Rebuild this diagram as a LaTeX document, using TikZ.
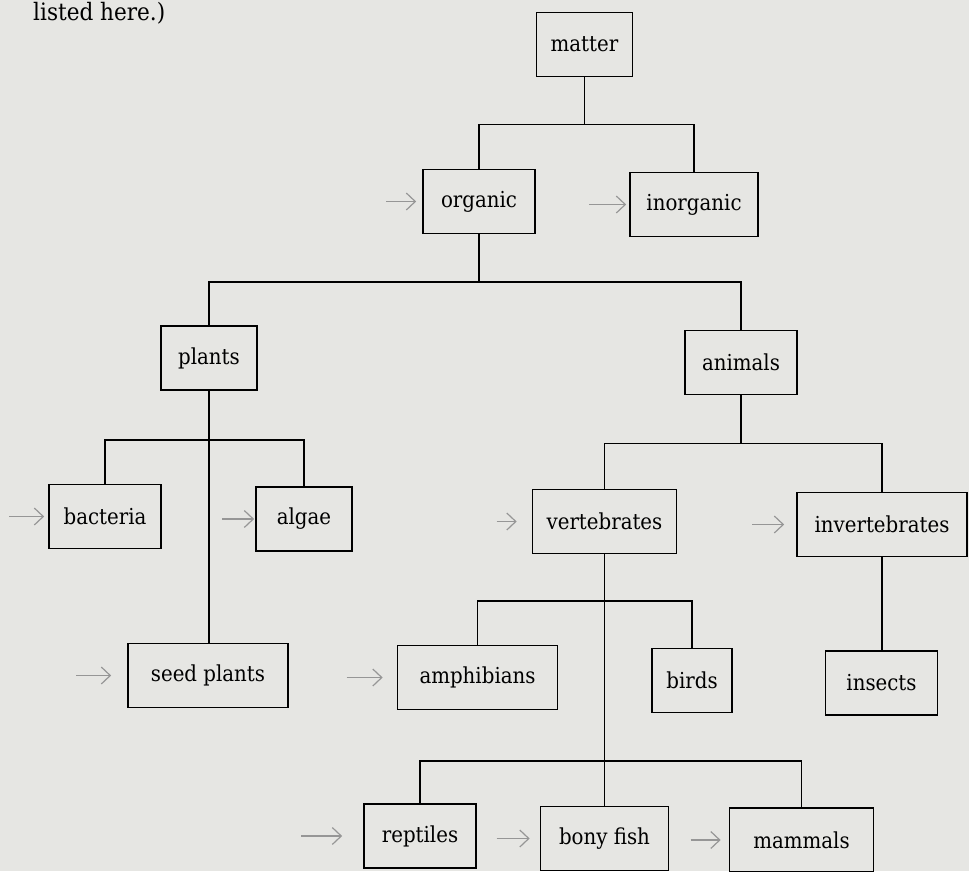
\documentclass[tikz,border=0pt]{standalone}
\usepackage{fontspec}
\setmainfont{DejaVu Serif Condensed}
\usetikzlibrary{arrows.meta}
\definecolor{page}{RGB}{230,230,227}
\definecolor{pencil}{RGB}{150,150,150}
\tikzset{
  box/.style    ={draw,line width=1.7pt,minimum height=64pt,minimum width=#1,inner sep=0pt,
                  font=\fontsize{22}{26}\selectfont},
  box/.default  =112pt,
  tree/.style   ={line width=1.5pt},
  pencilarr/.style={draw=pencil,line width=1.2pt,-{Straight Barb[length=9pt,width=17pt]}},
}

\begin{document}
\begin{tikzpicture}[x=1pt,y=-1pt]
  \fill[page] (0,0) rectangle (969,871);
  \useasboundingbox (0,0) rectangle (969,871);
  \node[anchor=base west,inner sep=0pt,font=\fontsize{24}{28}\selectfont] (note) at (33,20) {listed here.)};
  % the boxes
  \node[box=96pt]  (matter)   at (584.5,44.5)  {matter};
  \node[box]       (organic)  at (479,201.5)   {organic};
  \node[box=128pt] (inorg)    at (694,204.5)   {inorganic};
  \node[box=96pt]  (plants)   at (209,358)     {plants};
  \node[box]       (animals)  at (741,362.5)   {animals};
  \node[box]       (bacteria) at (105,516.5)   {bacteria};
  \node[box=96pt]  (algae)    at (304,519)     {algae};
  \node[box=144pt] (vert)     at (604.5,521.5) {vertebrates};
  \node[box=170pt] (invert)   at (882,524.5)   {invertebrates};
  \node[box=160pt] (seed)     at (208,675.5)   {seed plants};
  \node[box=160pt] (amphib)   at (477.5,677.5) {amphibians};
  \node[box=80pt]  (birds)    at (692,680.5)   {birds};
  \node[box]       (insects)  at (881.5,683)   {insects};
  \node[box]       (reptiles) at (420,836)     {reptiles};
  \node[box=128pt] (fish)     at (604.5,838.5) {bony fish};
  \node[box=144pt] (mammals)  at (801.5,840)   {mammals};
  % the tree
  \draw[tree] (matter.south) -- ++(0,47) -| (organic.north);
  \draw[tree] (matter.south) -- ++(0,47) -| (inorg.north);
  \draw[tree] (organic.south) -- ++(0,47.5) -| (plants.north);
  \draw[tree] (organic.south) -- ++(0,47.5) -| (animals.north);
  \draw[tree] (plants.south) -- (plants.south |- seed.north);
  \draw[tree] (plants.south) -- ++(0,49) -| (bacteria.north);
  \draw[tree] (plants.south) -- ++(0,49) -| (algae.north);
  \draw[tree] (animals.south) -- ++(0,48) -| (vert.north);
  \draw[tree] (animals.south) -- ++(0,48) -| (invert.north);
  \draw[tree] (invert.south) -- (invert.south |- insects.north);
  \draw[tree] (vert.south) -- (vert.south |- fish.north);
  \draw[tree] (vert.south) -- ++(0,46.5) -| (amphib.north);
  \draw[tree] (vert.south) -- ++(0,46.5) -| (birds.north);
  \draw[tree] (vert.south) -- ++(0,206.5) -| (reptiles.north);
  \draw[tree] (vert.south) -- ++(0,206.5) -| (mammals.north);
  % pencil marks: node/tail length/gap
  \foreach \n/\l/\g in {organic/36/6,inorg/40/3,bacteria/39/4,algae/33/1,vert/35/15,
                        invert/44/12,seed/51/16,amphib/50/14,reptiles/62/21,fish/43/10,mammals/38/8}{
    \coordinate (\n-tail) at ([xshift=-\l pt]\n.west);
    \draw[pencilarr,shorten >=\g pt] (\n-tail) -- (\n.west);
  }
\end{tikzpicture}
\end{document}
